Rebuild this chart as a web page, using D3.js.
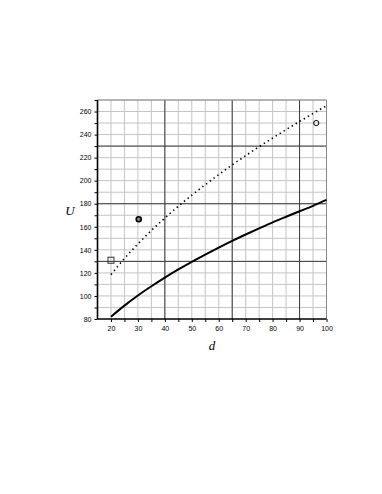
<!DOCTYPE html>
<html>
<head>
<meta charset="utf-8">
<script src="https://cdn.jsdelivr.net/npm/d3@7.9.0/dist/d3.min.js"></script>
<style>
  body { margin: 0; background: #fff; }
  svg text { font-family: "Liberation Sans", Arial, sans-serif; }
  .lbl { font-family: "Liberation Serif", "Times New Roman", serif; font-style: italic; }
</style>
</head>
<body>
<svg id="chart" width="382" height="494"></svg>
<script>
// values
const dVals = [20, 25, 30, 35, 40, 45, 50, 55, 60, 65, 70, 75, 80, 85, 90, 95, 100];
const solidU = [82, 91.6, 100.4, 108.4, 115.9, 123, 129.6, 135.9, 142, 147.8, 153.3, 158.6, 163.8, 168.7, 173.5, 178.2, 183.3];
const dottedU = [118.5, 132.5, 145.1, 156.8, 167.6, 177.8, 187.4, 196.5, 205.3, 213.7, 221.7, 229.5, 237, 244.3, 251.4, 258.3, 265];
const squarePts = [[20, 131]];
const circlePts = [[30.3, 166.6, true], [96.2, 250, false]];
const xTicks = [20, 30, 40, 50, 60, 70, 80, 90, 100];
const yTicks = [80, 100, 120, 140, 160, 180, 200, 220, 240, 260];

const svg = d3.select('#chart');
const pLeft = 97.5, pRight = 326.5, pTop = 100, pBottom = 319;

let x = d3.scaleLinear().domain([15, 100]).range([pLeft, pRight]);
let y = d3.scaleLinear().domain([80, 270]).range([pBottom, pTop]);

// thin grid
let g = svg.append('g');
g.selectAll('.vx').data(d3.range(20, 100, 5)).join('line')
  .attr('x1', d => x(d)).attr('x2', d => x(d)).attr('y1', pTop).attr('y2', pBottom)
  .attr('stroke', '#c4c4c4').attr('stroke-width', 1);
g.selectAll('.hy').data(d3.range(90, 271, 10)).join('line')
  .attr('y1', d => y(d)).attr('y2', d => y(d)).attr('x1', pLeft).attr('x2', pRight)
  .attr('stroke', '#c4c4c4').attr('stroke-width', 1);

// heavy grid
g.selectAll('.vX').data([40, 65, 90]).join('line')
  .attr('x1', d => x(d)).attr('x2', d => x(d)).attr('y1', pTop).attr('y2', pBottom)
  .attr('stroke', '#3a3a3a').attr('stroke-width', 1);
g.selectAll('.hY').data([130, 180, 230]).join('line')
  .attr('y1', d => y(d)).attr('y2', d => y(d)).attr('x1', pLeft).attr('x2', pRight)
  .attr('stroke', '#3a3a3a').attr('stroke-width', 1);

// frame top/right
svg.append('line').attr('x1', pLeft).attr('x2', pRight).attr('y1', pTop).attr('y2', pTop)
  .attr('stroke', '#888').attr('stroke-width', 1);
svg.append('line').attr('x1', pRight).attr('x2', pRight).attr('y1', pTop).attr('y2', pBottom)
  .attr('stroke', '#888').attr('stroke-width', 1);

// axes
let xAxis = d3.axisBottom(x).tickValues(d3.range(20, 101, 5)).tickSize(3)
  .tickFormat(d => xTicks.includes(d) ? d : '');
let yAxis = d3.axisLeft(y).tickValues(d3.range(80, 271, 10)).tickSize(3)
  .tickFormat(d => yTicks.includes(d) ? d : '');

let gx = svg.append('g').attr('transform', `translate(0,${pBottom})`).call(xAxis);
let gy = svg.append('g').attr('transform', `translate(${pLeft},0)`).call(yAxis);
[gx, gy].forEach(a => {
  a.select('.domain').attr('stroke', '#000').attr('stroke-width', 1.6);
  a.selectAll('.tick line').attr('stroke', '#000');
  a.selectAll('.tick text').attr('font-size', 7).attr('fill', '#000')
    .attr('font-family', '"Liberation Sans", Arial, sans-serif');
});
gx.select('.domain').attr('d', `M${pLeft},0H${pRight}`);
gy.select('.domain').attr('d', `M0,${pBottom}V${pTop}`);
gx.selectAll('.tick text').attr('dy', '0.9em');

// curves
let line = d3.line().x(d => x(d[0])).y(d => y(d[1])).curve(d3.curveMonotoneX);
svg.append('path').datum(d3.zip(dVals, solidU)).attr('d', line)
  .attr('fill', 'none').attr('stroke', '#000').attr('stroke-width', 2);
svg.append('path').datum(d3.zip(dVals, dottedU)).attr('d', line)
  .attr('fill', 'none').attr('stroke', '#000').attr('stroke-width', 1.6)
  .attr('stroke-dasharray', '1.4,3.3');

// markers
svg.selectAll('.sq').data(squarePts).join('rect')
  .attr('x', d => x(d[0]) - 3).attr('y', d => y(d[1]) - 3)
  .attr('width', 6).attr('height', 6)
  .attr('fill', 'none').attr('stroke', '#333').attr('stroke-width', 1);
svg.selectAll('.ci').data(circlePts).join('circle')
  .attr('cx', d => x(d[0])).attr('cy', d => y(d[1])).attr('r', d => d[2] ? 2.5 : 2.6)
  .attr('fill', d => d[2] ? '#888' : 'none').attr('stroke', '#000')
  .attr('stroke-width', d => d[2] ? 1.6 : 1);

// axis labels
svg.append('text').attr('class', 'lbl').attr('x', 70).attr('y', 215)
  .attr('text-anchor', 'middle').attr('font-size', 13).text('U');
svg.append('text').attr('class', 'lbl').attr('x', 212).attr('y', 350)
  .attr('text-anchor', 'middle').attr('font-size', 13).text('d');
</script>
</body>
</html>
